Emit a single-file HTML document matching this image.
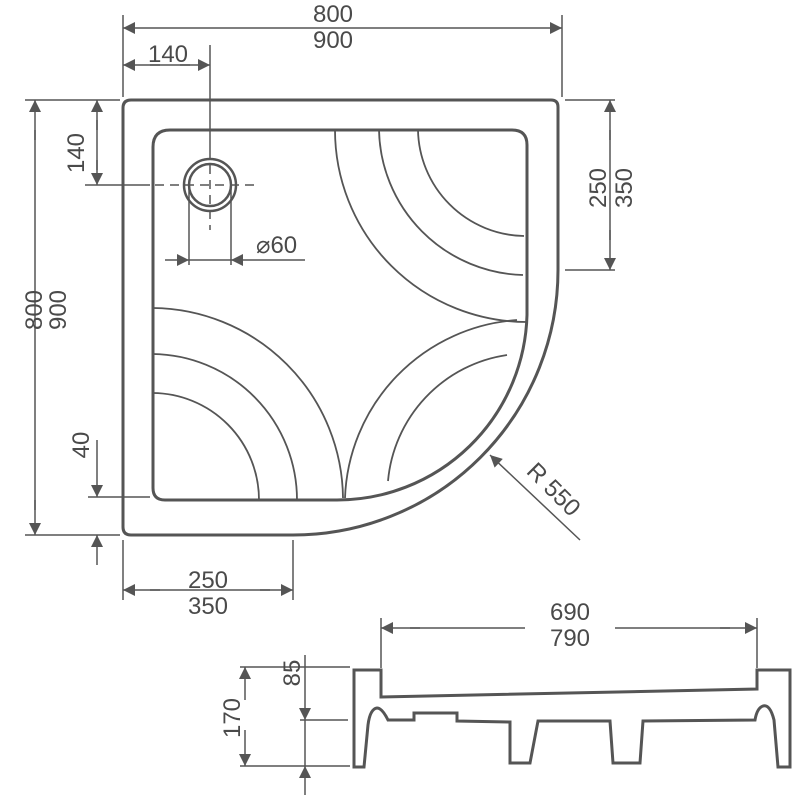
<!DOCTYPE html>
<html><head><style>
html,body{margin:0;padding:0;background:#fff;}
svg{display:block;}
text{font-family:"Liberation Sans",sans-serif;font-size:24px;fill:#4a4a4a;}
</style></head><body>
<svg width="800" height="800" viewBox="0 0 800 800" xmlns="http://www.w3.org/2000/svg">
<defs>
<marker id="a" viewBox="0 0 10 10" refX="10" refY="5" markerWidth="18" markerHeight="12" markerUnits="userSpaceOnUse" orient="auto"><path d="M0,0 L10,5 L0,10 z" fill="#555"/></marker>
</defs>
<g stroke="#555" fill="none">
<path d="M131,100 L551,100 Q558,100 558,107 L558,270 A265,265 0 0 1 293,535 L131,535 Q123,535 123,527 L123,108 Q123,100 131,100 Z" stroke-width="3"/>
<path d="M170,130 L512,130 Q527,130 527,145 L527,315 A190,190 0 0 1 337,500 L165,500 Q153,500 153,488 L153,147 Q153,130 170,130 Z" stroke-width="3"/>
<g stroke-width="1.8">
<path d="M335,130 A192,192 0 0 0 527,322"/>
<path d="M379,130 A148,148 0 0 0 523,275"/>
<path d="M418,130 A108,108 0 0 0 524,236"/>
<path d="M153,308 A192,192 0 0 1 343,498"/>
<path d="M153,354 A146,146 0 0 1 297,500"/>
<path d="M153,393 A107,107 0 0 1 259,500"/>
<path d="M345,498 A185,185 0 0 1 517,320"/>
<path d="M388,481 A140,140 0 0 1 507,355"/>
</g>
<circle cx="210" cy="185" r="26" stroke-width="2.5"/>
<circle cx="210" cy="185" r="21" stroke-width="2.5"/>
<path d="M155,185 H255 M210,150 V230" stroke-width="1.5" stroke-dasharray="9,6"/>
<g stroke-width="1.5">
<line x1="123" y1="15" x2="123" y2="97"/>
<line x1="562" y1="15" x2="562" y2="97"/>
<line x1="150" y1="28" x2="123" y2="28" marker-end="url(#a)"/>
<line x1="530" y1="28" x2="562" y2="28" marker-end="url(#a)"/>
<line x1="150" y1="28" x2="530" y2="28"/>
<line x1="210" y1="45" x2="210" y2="150"/>
<line x1="160" y1="65" x2="123" y2="65" marker-end="url(#a)"/>
<line x1="180" y1="65" x2="210" y2="65" marker-end="url(#a)"/>
<line x1="150" y1="65" x2="190" y2="65"/>
<line x1="25" y1="100" x2="120" y2="100"/>
<line x1="25" y1="535" x2="120" y2="535"/>
<line x1="35" y1="140" x2="35" y2="100" marker-end="url(#a)"/>
<line x1="35" y1="500" x2="35" y2="535" marker-end="url(#a)"/>
<line x1="35" y1="130" x2="35" y2="510"/>
<line x1="85" y1="185" x2="150" y2="185"/>
<line x1="97" y1="130" x2="97" y2="100" marker-end="url(#a)"/>
<line x1="97" y1="160" x2="97" y2="185" marker-end="url(#a)"/>
<line x1="97" y1="120" x2="97" y2="170"/>
<line x1="88" y1="497" x2="150" y2="497"/>
<line x1="97" y1="440" x2="97" y2="497" marker-end="url(#a)"/>
<line x1="97" y1="565" x2="97" y2="535" marker-end="url(#a)"/>
<line x1="565" y1="100" x2="615" y2="100"/>
<line x1="565" y1="270" x2="615" y2="270"/>
<line x1="610" y1="140" x2="610" y2="100" marker-end="url(#a)"/>
<line x1="610" y1="230" x2="610" y2="270" marker-end="url(#a)"/>
<line x1="610" y1="130" x2="610" y2="240"/>
<line x1="189" y1="185" x2="189" y2="265"/>
<line x1="231" y1="185" x2="231" y2="265"/>
<line x1="165" y1="260" x2="189" y2="260" marker-end="url(#a)"/>
<line x1="305" y1="260" x2="231" y2="260" marker-end="url(#a)"/>
<line x1="189" y1="260" x2="231" y2="260"/>
<line x1="123" y1="540" x2="123" y2="600"/>
<line x1="293" y1="540" x2="293" y2="600"/>
<line x1="160" y1="590" x2="123" y2="590" marker-end="url(#a)"/>
<line x1="260" y1="590" x2="293" y2="590" marker-end="url(#a)"/>
<line x1="150" y1="590" x2="270" y2="590"/>
<line x1="580" y1="540" x2="490" y2="455" marker-end="url(#a)"/>
<line x1="381" y1="618" x2="381" y2="668"/>
<line x1="757" y1="618" x2="757" y2="668"/>
<line x1="420" y1="628" x2="381" y2="628" marker-end="url(#a)"/>
<line x1="720" y1="628" x2="757" y2="628" marker-end="url(#a)"/>
<line x1="410" y1="628" x2="525" y2="628"/>
<line x1="615" y1="628" x2="730" y2="628"/>
<line x1="240" y1="667" x2="350" y2="667"/>
<line x1="300" y1="720" x2="348" y2="720"/>
<line x1="240" y1="766" x2="350" y2="766"/>
<line x1="245" y1="700" x2="245" y2="667" marker-end="url(#a)"/>
<line x1="245" y1="730" x2="245" y2="766" marker-end="url(#a)"/>
<line x1="305" y1="655" x2="305" y2="720" marker-end="url(#a)"/>
<line x1="305" y1="795" x2="305" y2="766" marker-end="url(#a)"/>
<line x1="305" y1="720" x2="305" y2="766"/>
</g>
<path d="M354,670 L381,670 L381,697 L757,689 L757,670 L790,670 L790,767 L778,767 L774,720 Q770,704 763,706 Q757,708 755,720 L643,721 L640,763 L613,763 L610,721 L538,721 L530,763 L510,763 L510,722 L457,721 L457,713 L414,713 L414,720 L388,720 Q382,708 377,708 Q370,709 368,725 L364,767 L354,767 Z" stroke-width="3"/>
</g>
<g>
<text x="333" y="22" text-anchor="middle">800</text>
<text x="333" y="48" text-anchor="middle">900</text>
<text x="168" y="62" text-anchor="middle">140</text>
<text transform="translate(42,310) rotate(-90)" text-anchor="middle">800</text>
<text transform="translate(66,310) rotate(-90)" text-anchor="middle">900</text>
<text transform="translate(84,153) rotate(-90)" text-anchor="middle">140</text>
<text transform="translate(89,445) rotate(-90)" text-anchor="middle">40</text>
<text transform="translate(606,188) rotate(-90)" text-anchor="middle">250</text>
<text transform="translate(632,188) rotate(-90)" text-anchor="middle">350</text>
<text x="256" y="253">⌀60</text>
<text x="208" y="588" text-anchor="middle">250</text>
<text x="208" y="614" text-anchor="middle">350</text>
<text transform="translate(548,495) rotate(45)" text-anchor="middle">R 550</text>
<text x="570" y="620" text-anchor="middle">690</text>
<text x="570" y="646" text-anchor="middle">790</text>
<text transform="translate(240,718) rotate(-90)" text-anchor="middle">170</text>
<text transform="translate(300,673) rotate(-90)" text-anchor="middle">85</text>
</g>
</svg>
</body></html>
